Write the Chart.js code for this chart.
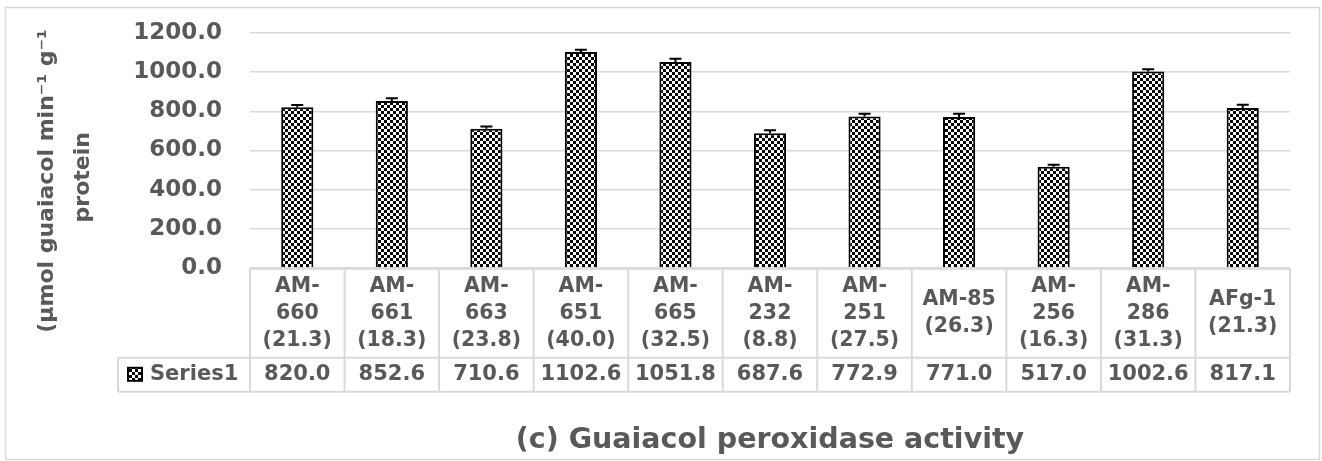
<!DOCTYPE html>
<html>
<head>
<meta charset="utf-8">
<script src="https://cdn.jsdelivr.net/npm/chart.js@4.4.1/dist/chart.umd.min.js"></script>
<style>
  html, body { margin: 0; padding: 0; background: #ffffff; }
  #wrap { width: 1322px; height: 461px; }
</style>
</head>
<body>
<div id="wrap"><canvas id="c" width="1322" height="461"></canvas></div>
<script>
// ---- data ----
const categories = [
  ["AM-", "660", "(21.3)"],
  ["AM-", "661", "(18.3)"],
  ["AM-", "663", "(23.8)"],
  ["AM-", "651", "(40.0)"],
  ["AM-", "665", "(32.5)"],
  ["AM-", "232", "(8.8)"],
  ["AM-", "251", "(27.5)"],
  ["AM-85", "(26.3)"],
  ["AM-", "256", "(16.3)"],
  ["AM-", "286", "(31.3)"],
  ["AFg-1", "(21.3)"]
];
const values = [820.0, 852.6, 710.6, 1102.6, 1051.8, 687.6, 772.9, 771.0, 517.0, 1002.6, 817.1];
const errors = [12, 14, 12, 12, 16, 15, 14, 16, 10, 12, 16];
const seriesName = "Series1";
const yTickMin = 0, yTickMax = 1200, yTickStep = 200;
const chartTitle = "(c) Guaiacol peroxidase activity";
const yTitleLines = ["(\u00b5mol guaiacol min\u207b\u00b9 g\u207b\u00b9", "protein"];

// ---- styling helpers ----
const FONT = '"DejaVu Sans", "Liberation Sans", Arial, sans-serif';
const TEXT = '#595959';
const GRID = '#d9d9d9';

function makePattern() {
  const c = document.createElement('canvas');
  c.width = 6; c.height = 6;
  const g = c.getContext('2d');
  g.fillStyle = '#ffffff'; g.fillRect(0, 0, 6, 6);
  g.fillStyle = '#000000';
  g.fillRect(0, 0, 3, 3);
  g.fillRect(3, 3, 3, 3);
  return g.createPattern(c, 'repeat');
}
const pattern = makePattern();

// pad title lines so the rotated block sits where the reference has it
const nb = '\u00a0';
const yTitle = [yTitleLines[0] + nb.repeat(8), yTitleLines[1] + nb.repeat(7)];

const frame = {
  id: 'frame',
  beforeDraw(chart) {
    const ctx = chart.ctx;
    ctx.save();
    ctx.fillStyle = '#ffffff';
    ctx.fillRect(0, 0, chart.width, chart.height);
    ctx.strokeStyle = GRID;
    ctx.lineWidth = 1.5;
    ctx.strokeRect(5.5, 7.5, 1314, 452);
    ctx.restore();
  }
};

const errorBars = {
  id: 'errorBars',
  afterDatasetsDraw(chart) {
    const ctx = chart.ctx, x = chart.scales.x, y = chart.scales.y;
    ctx.save();
    ctx.strokeStyle = '#000000';
    ctx.lineWidth = 2;
    values.forEach((v, i) => {
      const cx = x.getPixelForValue(i);
      const y0 = y.getPixelForValue(v);
      const y1 = y.getPixelForValue(v + errors[i]);
      ctx.beginPath();
      ctx.moveTo(cx, y0); ctx.lineTo(cx, y1);
      ctx.moveTo(cx - 6, y1); ctx.lineTo(cx + 6, y1);
      ctx.stroke();
    });
    ctx.restore();
  }
};

const dataTable = {
  id: 'dataTable',
  afterDraw(chart) {
    const ctx = chart.ctx, x = chart.scales.x, area = chart.chartArea;
    const n = values.length;
    const colW = (area.right - area.left) / n;
    const top = area.bottom + 1, mid = top + 89, bot = mid + 34;
    const legL = 118;
    ctx.save();
    ctx.strokeStyle = GRID;
    ctx.lineWidth = 2;
    const line = (a, b, c, d) => { ctx.beginPath(); ctx.moveTo(a, b); ctx.lineTo(c, d); ctx.stroke(); };
    line(area.left, top, area.right, top);
    line(legL, mid, area.right, mid);
    line(legL, bot, area.right, bot);
    for (let i = 0; i <= n; i++) {
      const xp = area.left + i * colW;
      line(xp, top, xp, bot);
    }
    line(legL, mid, legL, bot);

    ctx.fillStyle = TEXT;
    ctx.textAlign = 'center';
    ctx.textBaseline = 'middle';
    ctx.font = 'bold 20.5px ' + FONT;
    const lh = 27;
    categories.forEach((lines, i) => {
      const cx = x.getPixelForValue(i);
      const y0 = (top + mid) / 2 - (lines.length - 1) * lh / 2;
      lines.forEach((t, j) => ctx.fillText(t, cx, y0 + j * lh));
    });
    ctx.font = 'bold 21px ' + FONT;
    const vy = (mid + bot) / 2;
    values.forEach((v, i) => ctx.fillText(v.toFixed(1), x.getPixelForValue(i), vy));

    // legend key
    ctx.fillStyle = pattern;
    ctx.fillRect(128, vy - 7, 14, 13);
    ctx.strokeStyle = '#000000';
    ctx.lineWidth = 2;
    ctx.strokeRect(128, vy - 7, 14, 13);
    ctx.fillStyle = TEXT;
    ctx.textAlign = 'left';
    ctx.font = 'bold 21px ' + FONT;
    ctx.fillText(seriesName, 150, vy);
    ctx.restore();
  }
};

new Chart(document.getElementById('c'), {
  type: 'bar',
  data: {
    labels: categories,
    datasets: [{
      label: seriesName,
      data: values,
      backgroundColor: pattern,
      borderColor: '#000000',
      borderWidth: 2,
      categoryPercentage: 1.0,
      barPercentage: 0.34
    }]
  },
  options: {
    responsive: false,
    animation: false,
    layout: { padding: { left: 10, right: 32, top: 33, bottom: 0 } },
    plugins: {
      legend: { display: false },
      tooltip: { enabled: false },
      title: {
        display: true,
        text: chartTitle,
        position: 'bottom',
        fullSize: false,
        color: TEXT,
        font: { family: FONT, size: 28.5, weight: 'bold', lineHeight: 1.2 },
        padding: { top: 5, bottom: 3 }
      }
    },
    scales: {
      x: {
        ticks: { display: false },
        grid: { display: false },
        border: { display: false },
        afterFit(scale) { scale.height = 151; }
      },
      y: {
        min: yTickMin,
        max: yTickMax,
        ticks: {
          stepSize: yTickStep,
          padding: 3,
          color: TEXT,
          font: { family: FONT, size: 23, weight: 'bold' },
          callback: (v) => Number(v).toFixed(1)
        },
        grid: { color: GRID, lineWidth: 1.5, drawTicks: true, tickLength: 25, tickColor: 'rgba(0,0,0,0)' },
        border: { display: false },
        title: {
          display: true,
          text: yTitle,
          color: TEXT,
          font: { family: FONT, size: 22, weight: 'bold', lineHeight: 1.63 },
          padding: { top: 19, bottom: 0 }
        },
        afterFit(scale) { scale.width = 240; }
      }
    }
  },
  plugins: [frame, errorBars, dataTable]
});
</script>
</body>
</html>
